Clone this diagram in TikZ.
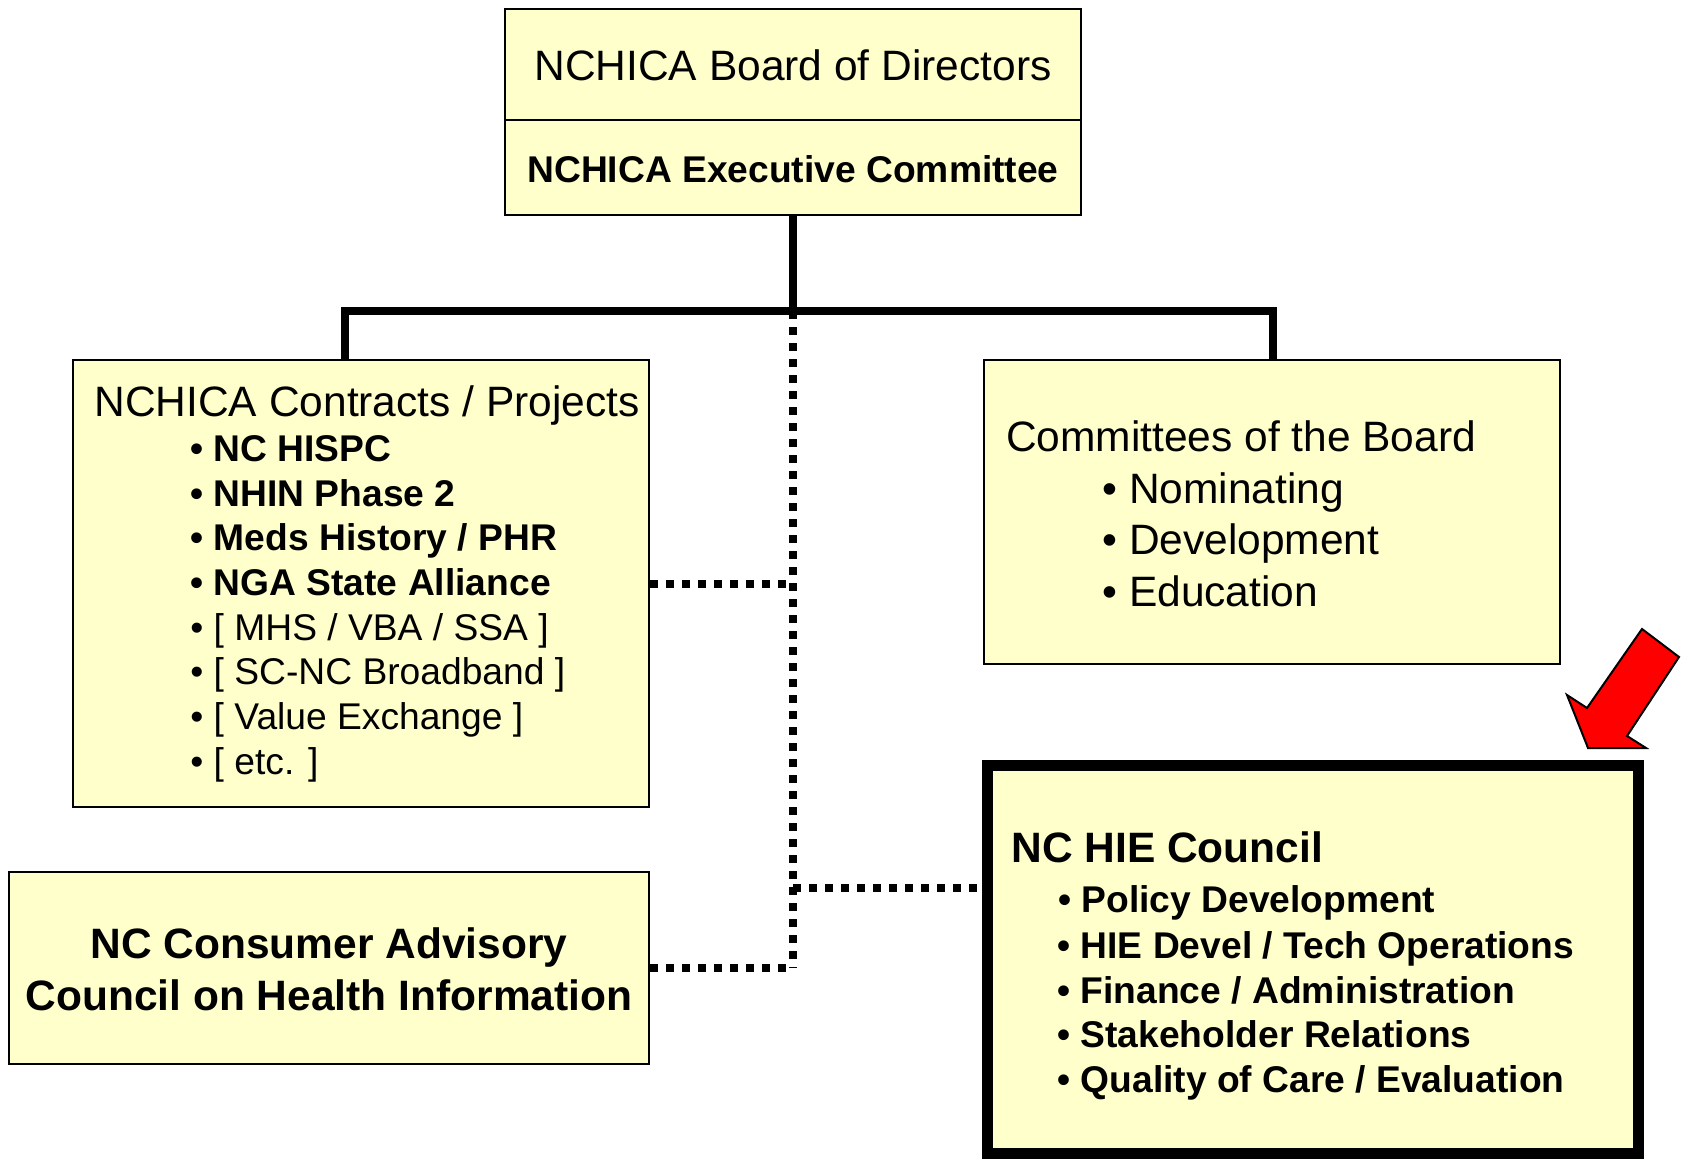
\documentclass[tikz,border=0pt]{standalone}
\usepackage{fontspec}
\setmainfont{Liberation Sans}
\definecolor{boxfill}{HTML}{FFFFCC}
\begin{document}
\begin{tikzpicture}[x=0.5pt,y=-0.5pt,
  box/.style={draw=black, line width=1pt, fill=boxfill, inner sep=0pt, rectangle},
  big/.style={font=\fontsize{21.25}{24}\selectfont},
  bigb/.style={font=\fontsize{21.25}{24}\selectfont\bfseries},
  sml/.style={font=\fontsize{18.6}{22}\selectfont},
  smlb/.style={font=\fontsize{18.6}{22}\selectfont\bfseries},
  txt/.style={inner sep=0pt, anchor=base west},
  ctxt/.style={inner sep=0pt, anchor=base},
  solidline/.style={line width=3.75pt},
  dotline/.style={line width=3.75pt, dash pattern=on 3.75pt off 4.25pt},
]
\useasboundingbox (0,0) rectangle (1681,1161);

% boxes
\node[box, minimum width=288pt, minimum height=103pt] (top) at (793,112) {};
\draw[line width=1pt] (top.west |- {(0,120)}) -- (top.east |- {(0,120)});
\node[box, minimum width=288pt, minimum height=223.5pt] (contracts) at (361,583.5) {};
\node[box, minimum width=288pt, minimum height=152pt] (committees) at (1272,512) {};
\node[box, minimum width=320pt, minimum height=96pt] (consumer) at (329,968) {};
\node[box, line width=5.5pt, minimum width=325.5pt, minimum height=194pt] (hie) at (1312.5,959) {};

% solid connectors
\coordinate (bar) at (793,311);
\coordinate (barL) at (345,311);
\coordinate (barR) at (1273,311);
\draw[solidline] (top.south) -- (bar);
\draw[solidline] (contracts.north -| barL) -- (barL) -- (barR) -- (committees.north -| barR);

% dotted connectors
\coordinate (dEnd) at (793,968);
\coordinate (j1) at (793,584);
\coordinate (j2) at (793,888);
\draw[dotline] (bar) -- (dEnd);
\draw[dotline] (contracts.east |- j1) -- (j1);
\draw[dotline] (j2) -- (hie.west |- j2);
\draw[dotline] (consumer.east) -- (dEnd);

% red arrow
\draw[fill=red, line width=1pt, line join=miter]
  (1567,695) -- (1588,748) -- (1646,748) -- (1627,736) -- (1679,657) -- (1642,629) -- (1587,708) -- cycle;

% texts: top
\node[ctxt, big] (t1) at (793,80.6) {NCHICA Board of Directors};
\node[ctxt, smlb] (t2) at (793,182.7) {NCHICA Executive Committee};

% contracts
\node[txt, big] (c0) at (94,416) {NCHICA Contracts / Projects};
\node[txt, smlb] (c1) at (190,461.4) {• NC HISPC};
\node[txt, smlb] (c2) at (190,506.1) {• NHIN Phase 2};
\node[txt, smlb] (c3) at (190,550.8) {• Meds History / PHR};
\node[txt, smlb] (c4) at (190,595.5) {• NGA State Alliance};
\node[txt, sml] (c5) at (190,640.2) {• [ MHS / VBA / SSA ]};
\node[txt, sml] (c6) at (190,684.9) {• [ SC-NC Broadband ]};
\node[txt, sml] (c7) at (190,729.6) {• [ Value Exchange ]};
\node[txt, sml] (c8) at (190,774.3) {• [ etc. ]};

% committees
\node[txt, big] (m0) at (1005.6,451.5) {Committees of the Board};
\node[txt, big] (m1) at (1102,503) {• Nominating};
\node[txt, big] (m2) at (1102,554.5) {• Development};
\node[txt, big] (m3) at (1102,606) {• Education};

% consumer
\node[ctxt, bigb] (n1) at (329,958.6) {NC Consumer Advisory};
\node[ctxt, bigb] (n2) at (329,1010.1) {Council on Health Information};

% HIE
\node[txt, bigb] (h0) at (1011,862) {NC HIE Council};
\node[txt, smlb] (h1) at (1058,912.8) {• Policy Development};
\node[txt, smlb] (h2) at (1057,958.9) {• HIE Devel / Tech Operations};
\node[txt, smlb] (h3) at (1057,1003.9) {• Finance / Administration};
\node[txt, smlb] (h4) at (1057,1047.9) {• Stakeholder Relations};
\node[txt, smlb] (h5) at (1057,1092.9) {• Quality of Care / Evaluation};
\end{tikzpicture}
\end{document}
